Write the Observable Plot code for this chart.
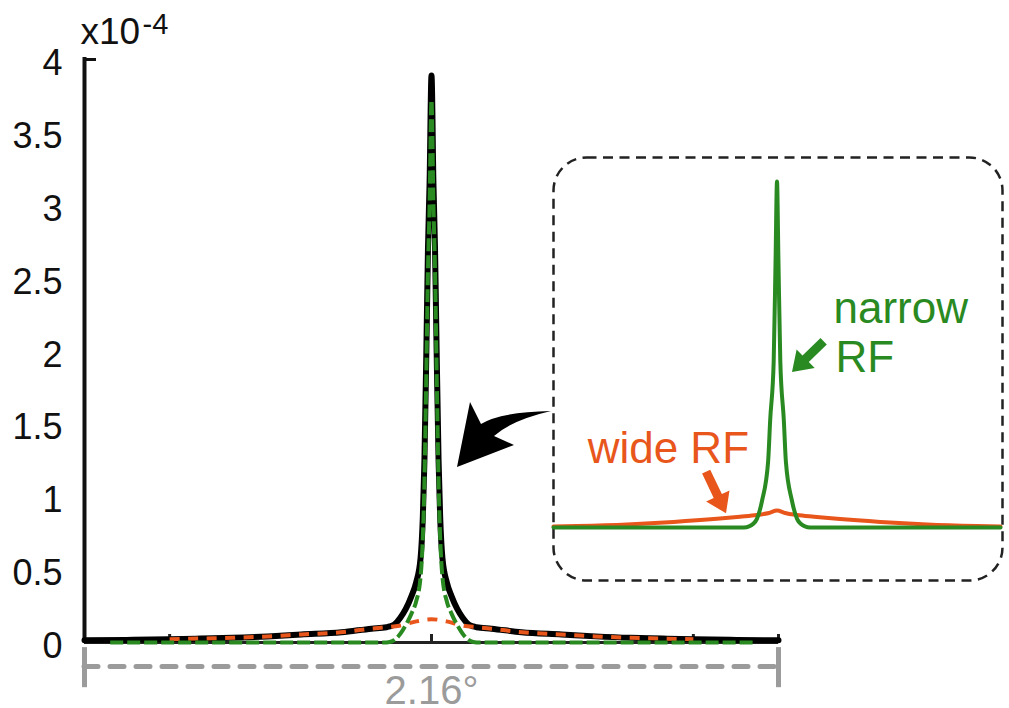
<!DOCTYPE html>
<html><head><meta charset="utf-8">
<script src="https://cdn.jsdelivr.net/npm/d3@7"></script>
<script src="https://cdn.jsdelivr.net/npm/@observablehq/plot@0.6"></script>
<style>
body{margin:0;background:#fff;}
#wrap{position:relative;width:1009px;height:708px;overflow:hidden;}
#wrap svg{font-family:"Liberation Sans",Arial,Helvetica,sans-serif;}
</style></head><body><div id="wrap"></div>
<script>
// ---- main panel data (x in degrees, y in units of 1e-4) ----
const totalX = [-1.08,-0.95,-0.815,-0.72,-0.62,-0.51,-0.405,-0.28,-0.187,-0.14,-0.13,-0.115,-0.097,-0.08,-0.062,-0.048,-0.034,-0.027,-0.022,-0.016,-0.011,-0.006,0,
  0.006,0.011,0.016,0.022,0.027,0.034,0.048,0.062,0.08,0.097,0.115,0.13,0.14,0.187,0.28,0.405,0.51,0.62,0.72,0.815,0.95,1.08];
const totalY = [0.015,0.018,0.022,0.027,0.032,0.042,0.055,0.07,0.095,0.105,0.11,0.125,0.17,0.23,0.32,0.41,0.58,0.86,1.25,2.0,2.7,3.15,3.89,
  3.15,2.7,2.0,1.25,0.86,0.58,0.41,0.32,0.23,0.17,0.125,0.11,0.105,0.095,0.07,0.055,0.042,0.032,0.027,0.022,0.018,0.015];

const wideX = [-0.815,-0.72,-0.62,-0.51,-0.405,-0.283,-0.187,-0.14,-0.1,-0.047,0,0.047,0.1,0.14,0.187,0.283,0.405,0.51,0.62,0.72,0.815];
const wideY = [0.022,0.027,0.032,0.042,0.055,0.07,0.095,0.105,0.115,0.145,0.16,0.145,0.115,0.105,0.095,0.07,0.055,0.042,0.032,0.027,0.022];

const narrowX = [-1.0,-0.15,-0.13,-0.115,-0.097,-0.08,-0.062,-0.048,-0.034,-0.027,-0.022,-0.016,-0.011,-0.006,0,0.006,0.011,0.016,0.022,0.027,0.034,0.048,0.062,0.08,0.097,0.115,0.13,0.15,1.0];
const narrowY = [0,0,0.004,0.018,0.06,0.12,0.2,0.28,0.45,0.72,1.1,1.86,2.55,3.0,3.72,3.0,2.55,1.86,1.1,0.72,0.45,0.28,0.2,0.12,0.06,0.018,0.004,0,0];

const yTicks = [0,0.5,1,1.5,2,2.5,3,3.5,4];
const xTicks = [-0.815,0,0.815,1.08];
const scaleBarEnds = [-1.08,1.08];
const scaleBarLabel = "2.16°";
const expBase = "x10", expPower = "-4";

// ---- inset data (x in degrees, y relative to narrow peak) ----
const insetNarrowX = [-1.08,-0.16,-0.135,-0.116,-0.097,-0.072,-0.043,-0.033,-0.016,-0.007,0,0.007,0.016,0.033,0.043,0.072,0.097,0.116,0.135,0.16,1.08];
const insetNarrowY = [0,0,0.003,0.01,0.025,0.078,0.19,0.31,0.48,0.77,1.0,0.77,0.48,0.31,0.19,0.078,0.025,0.01,0.003,0,0];
const insetWideX = [-1.08,-0.966,-0.725,-0.5,-0.29,-0.179,-0.097,-0.039,0,0.039,0.097,0.179,0.29,0.5,0.725,0.966,1.08];
const insetWideY = [0.003,0.0045,0.009,0.016,0.025,0.031,0.036,0.042,0.049,0.042,0.036,0.031,0.025,0.016,0.009,0.0045,0.003];
const insetLabels = [
  {text:"narrow", x:0.273, y:0.592, color:"green"},
  {text:"RF", x:0.283, y:0.448, color:"green"},
  {text:"wide RF", x:-0.915, y:0.185, color:"orange"}
];
const insetArrows = [
  {x1:0.228, y1:0.537, x2:0.075, y2:0.448, color:"green"},
  {x1:-0.34, y1:0.16, x2:-0.244, y2:0.04, color:"orange"}
];

const GREEN = "#2a8a22", ORANGE = "#e8561c", GRAY = "#9b9b9b";
const FONT = '"Liberation Sans",Arial,Helvetica,sans-serif';
const colorOf = c => c === "green" ? GREEN : ORANGE;

const total = totalX.map((x,i)=>({x, y: totalY[i]}));
const wide = wideX.map((x,i)=>({x, y: wideY[i]}));
const narrow = narrowX.map((x,i)=>({x, y: narrowY[i]}));

const main = Plot.plot({
  width: 1009, height: 708,
  marginLeft: 84, marginRight: 231, marginTop: 59, marginBottom: 66,
  style: {background: "white", fontFamily: FONT, overflow: "visible"},
  x: {domain: [-1.08, 1.08], axis: null},
  y: {domain: [0, 4]},
  marks: [
    Plot.ruleY([0], {dy: 24, stroke: GRAY, strokeWidth: 5, strokeDasharray: "14,12", strokeLinecap: "round"}),
    Plot.ruleX(scaleBarEnds, {x: d => d, y1: -0.035, y2: -0.31, stroke: GRAY, strokeWidth: 5}),
    Plot.text([scaleBarLabel], {x: 0, y: 0, dy: 33, lineAnchor: "top", fontSize: 40, fill: GRAY}),
    Plot.ruleY([0], {stroke: "#222", strokeWidth: 3}),
    Plot.ruleX([-1.08], {stroke: "#111", strokeWidth: 4, insetTop: -2}),
    Plot.tickX(xTicks, {x: d => d, insetTop: 575, stroke: "#222", strokeWidth: 3}),
    Plot.tickY([4], {y: d => d, insetRight: 682, stroke: "#111", strokeWidth: 3}),
    Plot.axisY({ticks: yTicks, tickSize: 0, tickPadding: 22, fontSize: 36, tickFormat: d => String(d), dy: 4, fill: "#111", label: null}),
    Plot.text([expBase], {frameAnchor: "top-left", dx: -4, dy: -16, lineAnchor: "bottom", textAnchor: "start", fontSize: 37, fill: "#111"}),
    Plot.text([expPower], {frameAnchor: "top-left", dx: 58, dy: -26, lineAnchor: "bottom", textAnchor: "start", fontSize: 29, fill: "#111"}),
    Plot.line(total, {x: "x", y: "y", stroke: "#000", strokeWidth: 6, curve: "monotone-x"}),
    Plot.line(wide, {x: "x", y: "y", stroke: ORANGE, strokeWidth: 4, strokeDasharray: "10,8.5", strokeLinecap: "butt", curve: "monotone-x"}),
    Plot.line(narrow, {x: "x", y: "y", stroke: GREEN, strokeWidth: 4, strokeDasharray: "13,4", strokeLinecap: "butt", curve: "monotone-x"})
  ]
});

const inset = Plot.plot({
  width: 460, height: 438,
  marginLeft: 5, marginRight: 8, marginTop: 29, marginBottom: 63,
  style: {background: "transparent", fontFamily: FONT, overflow: "visible"},
  x: {domain: [-1.08, 1.08], axis: null},
  y: {domain: [0, 1], axis: null},
  marks: [
    Plot.frame({rx: 33, stroke: "#222", strokeWidth: 2.5, strokeDasharray: "10,6.5", insetTop: -24, insetBottom: -53, insetRight: -2, insetLeft: 0}),
    Plot.line(insetWideX.map((x,i)=>({x, y: insetWideY[i]})), {x: "x", y: "y", stroke: ORANGE, strokeWidth: 4, curve: "monotone-x"}),
    Plot.line(insetNarrowX.map((x,i)=>({x, y: insetNarrowY[i]})), {x: "x", y: "y", stroke: GREEN, strokeWidth: 4, curve: "monotone-x"}),
    Plot.text(insetLabels, {x: "x", y: "y", text: "text", fill: d => colorOf(d.color), textAnchor: "start", lineAnchor: "bottom", fontSize: 44})
  ]
});

const wrap = document.getElementById("wrap");
wrap.appendChild(main);
inset.style.position = "absolute";
inset.style.left = "548px";
inset.style.top = "152px";
wrap.appendChild(inset);

function arrowPoly(x1, y1, x2, y2, sw, hw, hl) {
  const dx = x2 - x1, dy = y2 - y1, L = Math.hypot(dx, dy), ux = dx / L, uy = dy / L, px = -uy, py = ux;
  const bx = x2 - ux * hl, by = y2 - uy * hl;
  const pts = [[x1 + px*sw/2, y1 + py*sw/2], [bx + px*sw/2, by + py*sw/2], [bx + px*hw/2, by + py*hw/2], [x2, y2],
               [bx - px*hw/2, by - py*hw/2], [bx - px*sw/2, by - py*sw/2], [x1 - px*sw/2, y1 - py*sw/2]];
  return "M" + pts.map(p => p.map(v => v.toFixed(1)).join(",")).join("L") + "Z";
}
const sx = inset.scale("x"), sy = inset.scale("y");
const isvg = d3.select(inset);
insetArrows.forEach(a => {
  isvg.append("path")
    .attr("d", arrowPoly(sx.apply(a.x1), sy.apply(a.y1), sx.apply(a.x2), sy.apply(a.y2), 9, 26, 19))
    .attr("fill", colorOf(a.color));
});

// big curved pointer arrow from the inset toward the peak
d3.select(main).append("path")
  .attr("d", "M457,467 L470,402 L481,424 Q500,412 551,411 Q512,420 494,436 L514,445 Z")
  .attr("fill", "#000");
</script></body></html>
